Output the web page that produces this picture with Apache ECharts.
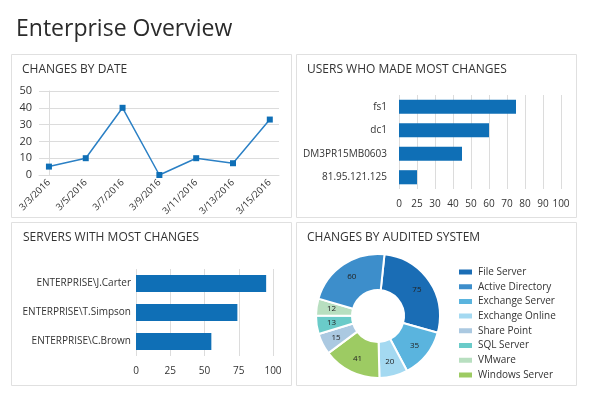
<!DOCTYPE html>
<html>
<head>
<meta charset="utf-8">
<script src="https://cdn.jsdelivr.net/npm/echarts@6/dist/echarts.min.js"></script>
<style>
html,body{margin:0;padding:0;background:#fff;}
#c{width:591px;height:395px;}
</style>
</head>
<body>
<div id="c"></div>
<script>
// ---- Data ----
var dateLabels = ['3/3/2016','3/5/2016','3/7/2016','3/9/2016','3/11/2016','3/13/2016','3/15/2016'];
var dateValues = [5, 10, 40, 0, 10, 7, 33];

var userNames = ['fs1','dc1','DM3PR15MB0603','81.95.121.125'];
var userValues = [75, 60, 45, 25];
var userTicks = [0, 25, 30, 40, 50, 60, 70, 80, 90, 100];

var serverNames = ['ENTERPRISE\\J.Carter','ENTERPRISE\\T.Simpson','ENTERPRISE\\C.Brown'];
var serverValues = [95, 74, 55];
var serverTicks = [0, 25, 50, 75, 100];

var systemNames = ['File Server','Exchange Server','Exchange Online','Windows Server','Share Point','SQL Server','VMware','Active Directory'];
var systemValues = [75, 35, 20, 41, 15, 13, 12, 60];
var legendOrder = ['File Server','Active Directory','Exchange Server','Exchange Online','Share Point','SQL Server','VMware','Windows Server'];

// ---- Styles ----
var FONT = '"Open Sans", "Noto Sans", sans-serif';
var BAR = '#0f6fb6';
var GRID = '#dcdcdc';
var TXT = '#333';
var systemColors = {
  'File Server':'#1a6db5','Active Directory':'#3d8ecb','Exchange Server':'#5ab4de',
  'Exchange Online':'#a4d9f1','Share Point':'#abc9e1','SQL Server':'#6acbc9',
  'VMware':'#b8dfc0','Windows Server':'#9dcb63'
};

// piecewise scale for the users axis (ticks are unevenly spaced values)
function userPos(v){
  for (var i=0;i<userTicks.length-1;i++){
    if (v<=userTicks[i+1]) return i + (v-userTicks[i])/(userTicks[i+1]-userTicks[i]);
  }
  return userTicks.length-1;
}

var chart = echarts.init(document.getElementById('c'), null, {renderer:'canvas'});

function panel(x,y,w,h){
  return {type:'rect', z:-1, shape:{x:x+0.5,y:y+0.5,width:w,height:h}, style:{fill:'#fff', stroke:'#e0e0e0', lineWidth:1}, silent:true};
}
function txt(x,y,t,size,color){
  return {type:'text', z:5, style:{x:x,y:y,text:t,font:'400 '+size+'px '+FONT,fill:color||TXT,verticalAlign:'middle',align:'left'}, silent:true};
}

var option = {
  backgroundColor:'#fff',
  animation:false,
  textStyle:{fontFamily:FONT},
  graphic:[
    panel(11,54,280,163), panel(296,54,280,163), panel(11,222,280,163), panel(296,222,280,163),
    txt(16,29,'Enterprise Overview',23,'#2b2b2b'),
    txt(22,70,'CHANGES BY DATE',12),
    txt(307,70,'USERS WHO MADE MOST CHANGES',12),
    txt(23,238,'SERVERS WITH MOST CHANGES',12),
    txt(307,238,'CHANGES BY AUDITED SYSTEM',12)
  ],
  legend:{
    orient:'vertical', left:452, top:262,
    data:legendOrder, icon:'rect', itemWidth:15, itemHeight:7, itemGap:4.7,
    textStyle:{fontSize:10, color:TXT, fontFamily:FONT},
    selectedMode:false
  },
  grid:[
    {left:39, top:91, width:240, height:84},
    {left:399, top:95, width:162, height:94},
    {left:136, top:269, width:137, height:87}
  ],
  xAxis:[
    {gridIndex:0, type:'value', min:-0.27, max:6.25,
      axisLine:{show:true, lineStyle:{color:GRID}}, axisTick:{show:false}, splitLine:{show:false},
      axisLabel:{customValues:[0,1,2,3,4,5,6], rotate:45, fontSize:9.5, color:TXT, margin:6,
        formatter:function(v){ return dateLabels[Math.round(v)]; }}},
    {gridIndex:1, type:'value', min:0, max:9, interval:1,
      axisLine:{show:false}, axisTick:{show:false},
      splitLine:{show:true, lineStyle:{color:GRID}},
      axisLabel:{fontSize:10, color:TXT, margin:10, formatter:function(v){ return String(userTicks[Math.round(v)]); }}},
    {gridIndex:2, type:'value', min:0, max:100, interval:25,
      axisLine:{show:false}, axisTick:{show:false},
      splitLine:{show:true, lineStyle:{color:GRID}},
      axisLabel:{fontSize:10, color:TXT, margin:10}}
  ],
  yAxis:[
    {gridIndex:0, type:'value', min:0, max:50, interval:10,
      axisLine:{show:true, lineStyle:{color:GRID}}, axisTick:{show:false},
      splitLine:{show:true, lineStyle:{color:GRID}},
      axisLabel:{fontSize:11, color:TXT, margin:7}},
    {gridIndex:1, type:'category', data:userNames, inverse:true,
      axisLine:{show:false}, axisTick:{show:false},
      axisLabel:{fontSize:10, color:TXT, margin:12}},
    {gridIndex:2, type:'category', data:serverNames, inverse:true,
      axisLine:{show:false}, axisTick:{show:false},
      axisLabel:{fontSize:10, color:TXT, margin:5}}
  ],
  series:[
    {type:'line', xAxisIndex:0, yAxisIndex:0,
      data:dateValues.map(function(v,i){return [i,v];}),
      symbol:'rect', symbolSize:6, itemStyle:{color:BAR},
      lineStyle:{color:'#2b80c5', width:1.5}},
    {type:'bar', xAxisIndex:1, yAxisIndex:1,
      data:userValues.map(function(v){return userPos(v);}),
      barCategoryGap:'40%', itemStyle:{color:BAR}},
    {type:'bar', xAxisIndex:2, yAxisIndex:2,
      data:serverValues, barCategoryGap:'42%', itemStyle:{color:BAR}},
    {type:'pie', center:[378,316], radius:[26,62], startAngle:84, clockwise:true,
      data:systemNames.map(function(n,i){return {name:n, value:systemValues[i], itemStyle:{color:systemColors[n]}};}),
      itemStyle:{borderColor:'#fff', borderWidth:2},
      label:{show:true, position:'inside', formatter:'{c}', fontSize:8, color:'#222', fontFamily:FONT},
      labelLine:{show:false}, emphasis:{disabled:true}}
  ]
};
chart.setOption(option);
</script>
</body>
</html>
